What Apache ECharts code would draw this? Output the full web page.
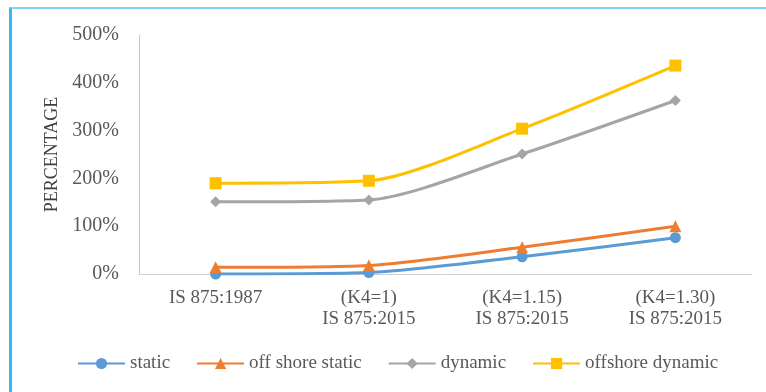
<!DOCTYPE html>
<html>
<head>
<meta charset="utf-8">
<script src="https://cdn.jsdelivr.net/npm/echarts@6/dist/echarts.min.js"></script>
<style>
  html, body { margin: 0; padding: 0; background: #fff; }
  #frame {
    position: absolute; left: 9px; top: 7px; width: 770px; height: 383px;
    border-left: 3px solid #33bbef; border-top: 2px solid #80d4f4; border-bottom: 1px solid #c4e9f8;
  }
  #chart { position: absolute; left: 0; top: 0; width: 766px; height: 392px; }
</style>
</head>
<body>
<div id="frame"></div>
<div id="chart"></div>
<script>
// Ratios (in %) for each code version
const categories = ['IS 875:1987', '(K4=1)\nIS 875:2015', '(K4=1.15)\nIS 875:2015', '(K4=1.30)\nIS 875:2015'];
const staticVals = [0, 3, 36, 76];
const offshoreStaticVals = [14, 18, 56, 100];
const dynamicVals = [151, 155, 251, 363];
const offshoreDynamicVals = [190, 195, 304, 436];
const yTicks = [0, 100, 200, 300, 400, 500];

const font = 'Liberation Serif, Times New Roman, serif';
const textColor = '#595959';

function lineSeries(name, data, color, symbol, size) {
  return {
    name, type: 'line', data, smooth: 0.25,
    symbol, symbolSize: size,
    lineStyle: { color, width: 3 },
    itemStyle: { color },
    z: 3
  };
}

const chart = echarts.init(document.getElementById('chart'), null, { renderer: 'canvas' });
chart.setOption({
  animation: false,
  grid: { left: 139, right: 14, top: 35, bottom: 118 },
  legend: {
    bottom: 14, left: 72,
    itemWidth: 47, itemHeight: 14, itemGap: 26,
    textStyle: { fontFamily: font, fontSize: 19, color: textColor },
    data: ['static', 'off shore static', 'dynamic', 'offshore dynamic']
  },
  xAxis: {
    type: 'category', data: categories,
    axisLine: { lineStyle: { color: '#d0d0d0', width: 1 } },
    axisTick: { show: false },
    axisLabel: { fontFamily: font, fontSize: 19, color: textColor, lineHeight: 21, margin: 14 }
  },
  yAxis: {
    type: 'value', min: yTicks[0], max: yTicks[yTicks.length - 1], interval: 100,
    name: 'PERCENTAGE', nameLocation: 'middle', nameGap: 74, nameRotate: 90,
    nameTextStyle: { fontFamily: font, fontSize: 18, color: '#404040' },
    axisLine: { show: true, lineStyle: { color: '#c8c8c8', width: 1 } },
    axisTick: { show: false },
    splitLine: { show: false },
    axisLabel: { fontFamily: font, fontSize: 20, color: textColor, margin: 20, formatter: v => v + '%' }
  },
  series: [
    lineSeries('static', staticVals, '#5b9bd5', 'circle', 11),
    lineSeries('off shore static', offshoreStaticVals, '#ed7d31', 'triangle', 12),
    lineSeries('dynamic', dynamicVals, '#a5a5a5', 'diamond', 11),
    lineSeries('offshore dynamic', offshoreDynamicVals, '#ffc000', 'rect', 12)
  ]
});
</script>
</body>
</html>
